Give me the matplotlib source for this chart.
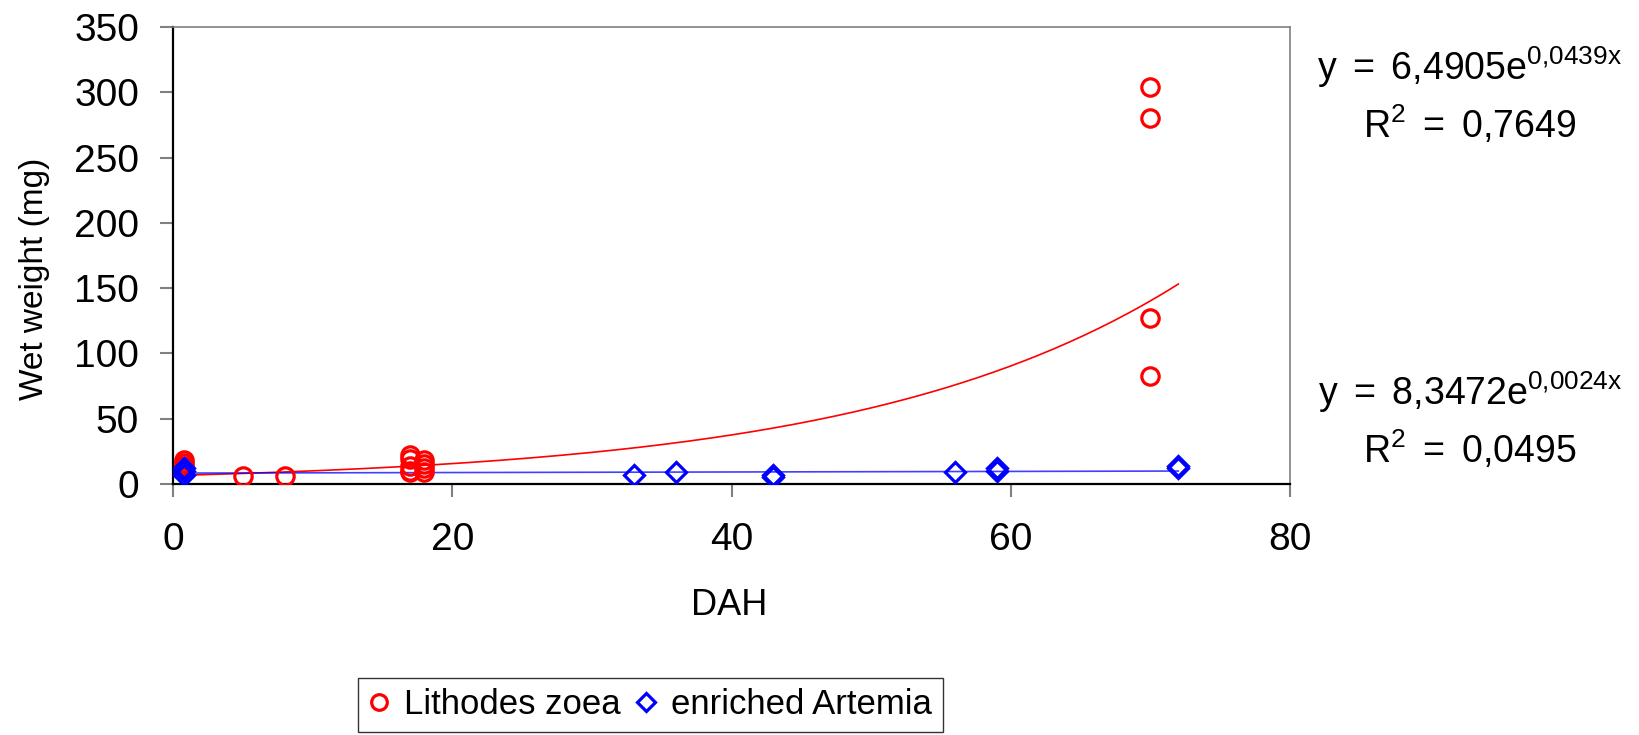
import numpy as np
import matplotlib
matplotlib.use("Agg")
import matplotlib.pyplot as plt

plt.rcParams["font.family"] = ["Liberation Sans", "DejaVu Sans"]
plt.rcParams["mathtext.fontset"] = "custom"
plt.rcParams["mathtext.rm"] = "Liberation Sans"
plt.rcParams["mathtext.it"] = "Liberation Sans"

# Lithodes zoea: days after hatching, wet weight (mg)
zoea_dah = [0.8, 0.8, 0.8, 5, 8, 17, 17, 17, 17, 17, 18, 18, 18, 18, 70, 70, 70, 70]
zoea_ww = [18, 16, 14, 6, 6, 22, 19, 14, 10, 9, 18, 15, 12, 9, 304, 280, 127, 83]

# enriched Artemia
art_dah = [0.8, 0.8, 0.8, 33, 36, 43, 43, 56, 59, 59, 72, 72]
art_ww = [12, 10, 7, 7, 9, 5, 7, 9, 10, 12, 12, 14]

# exponential trend lines y = a*exp(b*x), as printed on the chart
zoea_fit = (6.4905, 0.0439, 0.7649)
art_fit = (8.3472, 0.0024, 0.0495)
fit_range = (0.8, 72)

red = "#FF0000"
blue = "#0000FF"

fig = plt.figure(figsize=(16.4, 7.35), dpi=100)
ax = fig.add_axes([173 / 1640, 1 - 484 / 735, 1117 / 1640, 457 / 735])

xs = np.linspace(fit_range[0], fit_range[1], 200)
ax.plot(xs, zoea_fit[0] * np.exp(zoea_fit[1] * xs), color=red, lw=1.2, zorder=2)
ax.plot(xs, art_fit[0] * np.exp(art_fit[1] * xs), color=blue, lw=1.2, alpha=0.75, zorder=2)

ax.plot(zoea_dah, zoea_ww, "o", ms=12.5, mfc="none", mec=red, mew=2.3,
        label="Lithodes zoea", zorder=3)
ax.plot(art_dah, art_ww, "D", ms=10, mfc="none", mec=blue, mew=2.3,
        label="enriched Artemia", zorder=3)

ax.set_xlim(0, 80)
ax.set_ylim(0, 350)
ax.set_xticks(np.arange(0, 81, 20))
ax.set_yticks(np.arange(0, 351, 50))

for side in ["left", "bottom"]:
    ax.spines[side].set_color("black")
    ax.spines[side].set_linewidth(1.6)
for side in ["top", "right"]:
    ax.spines[side].set_color("#808080")
    ax.spines[side].set_linewidth(1.2)

ax.tick_params(axis="y", direction="out", length=9.5, width=1.5, color="#808080",
               labelsize=28, pad=15)
ax.tick_params(axis="x", direction="out", length=9.5, width=1.5, color="#808080",
               labelsize=28, pad=18)

ax.set_ylabel("Wet weight (mg)", fontsize=24)
ax.yaxis.set_label_coords(-0.11, 0.45)
ax.set_xlabel("DAH", fontsize=26)
ax.xaxis.set_label_coords(0.498, -0.228)

# trend line equations on the right
def eq_text(a, b):
    s_a = f"{a:.4f}".replace(".", "{,}")
    s_b = f"{b:.4f}".replace(".", "{,}")
    return r"$\mathregular{y\ =\ " + s_a + "e^{" + s_b + "x}}$"

def r2_text(r):
    s_r = f"{r:.4f}".replace(".", "{,}")
    return r"$\mathregular{R^2\ =\ " + s_r + "}$"

eq_x = 1470 / 1640
fig.text(eq_x, 1 - 80 / 735, eq_text(zoea_fit[0], zoea_fit[1]),
         fontsize=27, ha="center", va="baseline")
fig.text(eq_x, 1 - 138 / 735, r2_text(zoea_fit[2]),
         fontsize=27, ha="center", va="baseline")
fig.text(eq_x, 1 - 405 / 735, eq_text(art_fit[0], art_fit[1]),
         fontsize=27, ha="center", va="baseline")
fig.text(eq_x, 1 - 463 / 735, r2_text(art_fit[2]),
         fontsize=27, ha="center", va="baseline")

leg = fig.legend(loc="upper left", bbox_to_anchor=(358 / 1640, 1 - 678 / 735),
                 borderaxespad=0, ncol=2, fontsize=25, frameon=True, fancybox=False,
                 edgecolor="black", handlelength=0.6, handletextpad=0.42,
                 columnspacing=0.45, borderpad=0.3, markerscale=0.9)
leg.get_frame().set_linewidth(1.0)

fig.savefig("out.png", dpi=100)
